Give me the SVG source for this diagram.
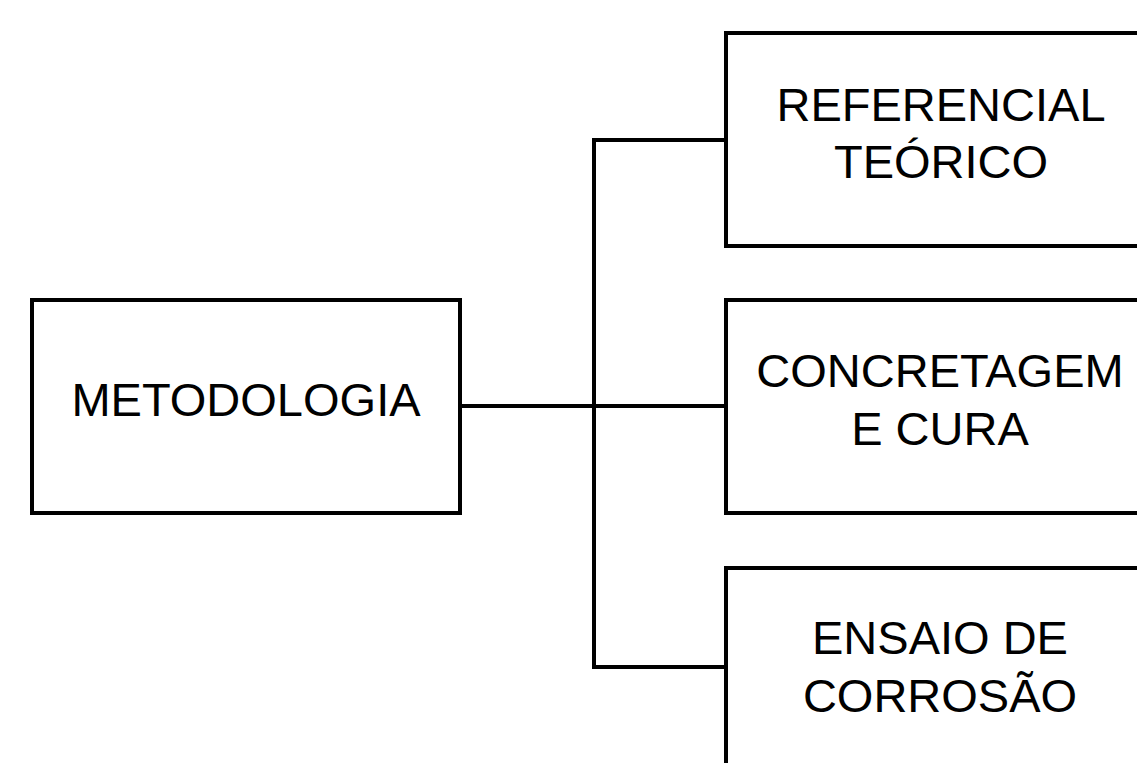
<svg xmlns="http://www.w3.org/2000/svg" width="1137" height="763" viewBox="0 0 1137 763">
<style>
.box{fill:#fff;stroke:#000;stroke-width:4}
.lbl{font-family:"Liberation Sans",Arial,sans-serif;font-size:47px;fill:#000;text-anchor:middle}
.conn{fill:none;stroke:#000;stroke-width:4;stroke-linecap:square}
</style>
<rect width="1137" height="763" fill="#fff"/>
<g id="connectors">
<path class="conn" d="M460,406 H726"/>
<path class="conn" d="M726,140 H594 V667 H726"/>
</g>
<g id="metodologia">
<rect class="box" x="32" y="300" width="428" height="213"/>
<text class="lbl" x="246" y="416">METODOLOGIA</text>
</g>
<g id="referencial">
<rect class="box" x="726" y="33" width="428" height="213"/>
<text class="lbl" x="941" y="121">REFERENCIAL</text>
<text class="lbl" x="941" y="178">TEÓRICO</text>
</g>
<g id="concretagem">
<rect class="box" x="726" y="300" width="428" height="213"/>
<text class="lbl" x="940" y="387">CONCRETAGEM</text>
<text class="lbl" x="940" y="445">E CURA</text>
</g>
<g id="ensaio">
<rect class="box" x="726" y="568" width="428" height="213"/>
<text class="lbl" x="940" y="654">ENSAIO DE</text>
<text class="lbl" x="940" y="712">CORROSÃO</text>
</g>
</svg>
